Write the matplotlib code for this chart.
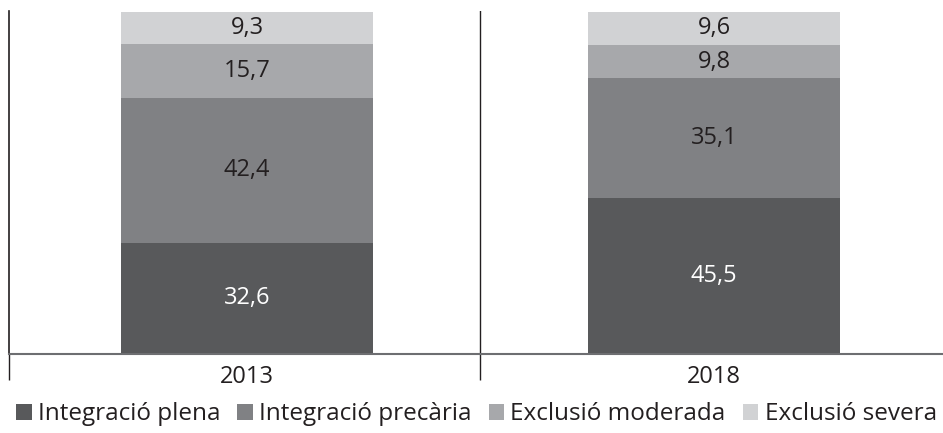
import matplotlib.pyplot as plt
import numpy as np

plt.rcParams['font.family'] = ['Open Sans', 'DejaVu Sans']

anys = ['2013', '2018']
plena = [32.6, 45.5]
precaria = [42.4, 35.1]
moderada = [15.7, 9.8]
severa = [9.3, 9.6]

series = [plena, precaria, moderada, severa]
noms = ['Integració plena', 'Integració precària', 'Exclusió moderada', 'Exclusió severa']
colors = ['#58595b', '#808184', '#a7a8ab', '#d1d2d4']
text_colors = ['white', '#231f20', '#231f20', '#231f20']

fig = plt.figure(figsize=(9.43, 4.33), dpi=100)
ax = fig.add_axes([9 / 943, 1 - 354 / 433, 934 / 943, 343 / 433])

x = np.arange(len(anys))
bottom = np.zeros(len(anys))
for vals, nom, col, tc in zip(series, noms, colors, text_colors):
    ax.bar(x + 0.01, vals, width=0.54, bottom=bottom, color=col, label=nom)
    for xi, b, v in zip(x, bottom, vals):
        ax.text(xi + 0.01, b + v / 2, f'{v:.1f}'.replace('.', ','), ha='center', va='center',
                fontsize=17, color=tc)
    bottom += np.array(vals)

ax.set_xlim(-0.5, 1.5)
ax.set_ylim(0, 100.3)
ax.set_yticks([])
ax.set_xticks(x + 0.01)
ax.set_xticklabels(anys, fontsize=17, color='#231f20')
ax.tick_params(axis='x', which='major', length=0, pad=8)
ax.set_xticks([-0.5, 0.508], minor=True)
ax.tick_params(axis='x', which='minor', length=19, width=1, color='#231f20')
ax.axvline(0.508, color='#231f20', lw=1)

for s in ['top', 'right']:
    ax.spines[s].set_visible(False)
ax.spines['left'].set_color('#231f20')
ax.spines['left'].set_linewidth(1.2)
ax.spines['bottom'].set_color('#6d6e71')
ax.spines['bottom'].set_linewidth(1.5)

fig.legend(loc='lower center', bbox_to_anchor=(0.505, -0.035), ncol=4, frameon=False,
           fontsize=17.5, handlelength=0.65, handleheight=0.65, handletextpad=0.25,
           columnspacing=0.7, labelcolor='#231f20')

fig.savefig('out.png', dpi=100)
